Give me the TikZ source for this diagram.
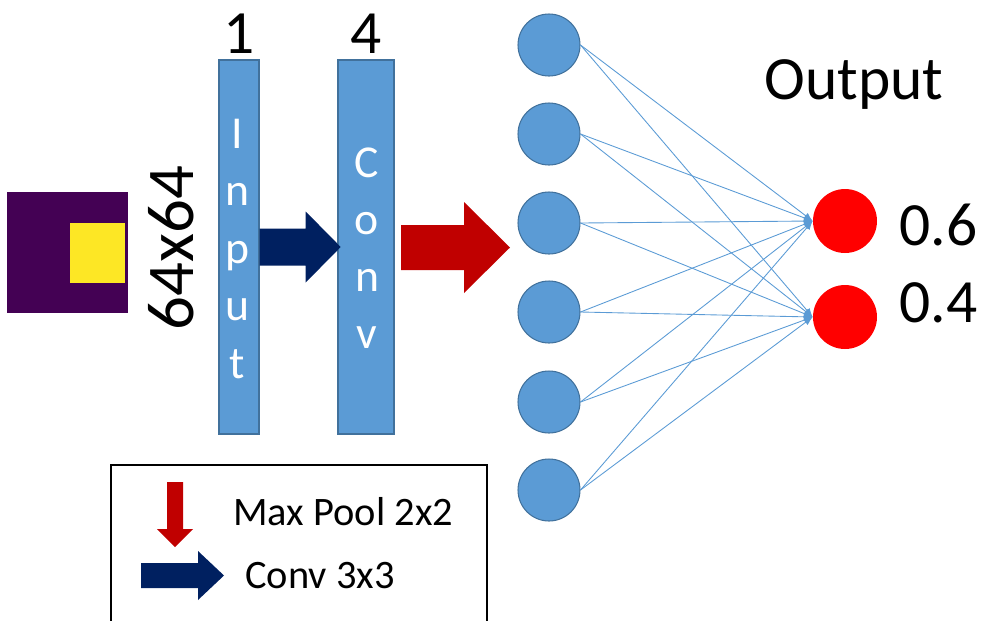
\documentclass[tikz,border=0pt]{standalone}
\usepackage{fontspec}
\setmainfont{Carlito}
\usetikzlibrary{arrows.meta,calc}

\definecolor{barblue}{HTML}{5B9BD5}
\definecolor{barline}{HTML}{41719C}
\definecolor{convnavy}{HTML}{002060}
\definecolor{pooldred}{HTML}{C00000}
\definecolor{vpurple}{HTML}{440154}
\definecolor{vyellow}{HTML}{FDE725}

% block arrow: start, shaft length, total length, shaft half, head half, colour
\newcommand{\fatarrow}[6]{%
  \fill[#6] ($(#1)+(0,-#4)$) -- ++(#2,0) -- ++(0,#4-#5) -- ++(#3-#2,#5)
    -- ++(#2-#3,#5) -- ++(0,#4-#5) -- ++(-#2,0) -- cycle;}

\tikzset{
  bar/.style={rectangle,fill=barblue,draw=barline,line width=0.8pt,
    inner sep=0pt,minimum width=#1,minimum height=7.48cm},
  barletter/.style={text=white,anchor=base,inner sep=0pt,font=\fontsize{26}{30}\selectfont},
  hidden/.style={circle,fill=barblue,draw=barline,line width=0.6pt,
    inner sep=0pt,minimum size=1.24cm},
  outunit/.style={circle,fill=red,inner sep=0pt,minimum size=1.28cm},
  link/.style={draw=barblue,line width=0.5pt,-{Latex[length=5pt,width=4pt]}},
  bigtext/.style={anchor=base,inner sep=0pt,font=\fontsize{35}{40}\selectfont},
  legendtext/.style={anchor=base west,inner sep=0pt,font=\fontsize{23}{27}\selectfont}
}

\begin{document}
\begin{tikzpicture}[x=0.02cm,y=-0.02cm]
\clip (0,0) rectangle (988,620);
\useasboundingbox (0,0) rectangle (988,620);

% input image
\fill[vpurple] (7,192) rectangle (128,313);
\fill[vyellow] (70,223) rectangle (125,283);
\node[anchor=base,rotate=90,inner sep=0pt,font=\fontsize{38}{42}\selectfont] (size) at (193,248) {64x64};

% feature bars
\node[bar=0.8cm] (inp) at (239,247) {};
\node[bar=1.12cm] (conv) at (366,247) {};
\node[bigtext] (ninp) at (239,53) {1};
\node[bigtext] (nconv) at (366,53) {4};
\foreach \c [count=\k from 0] in {I,n,p,u,t}
  \node[barletter] (li\k) at (237,148+57.5*\k) {\c};
\foreach \c [count=\k from 0] in {C,o,n,v}
  \node[barletter] (lc\k) at (367,177+57.3*\k) {\c};

% block arrows
\fatarrow{inp.east}{46}{81}{18.5}{35.5}{convnavy}
\coordinate (poolstart) at (401,247.5);
\fatarrow{poolstart}{63}{109}{22.5}{45.5}{pooldred}

% dense layer
\foreach \i [count=\n] in {45,134,223,312,402,490}
  \node[hidden] (h\n) at (549,\i) {};
\node[outunit] (o1) at (845,221) {};
\node[outunit] (o2) at (845,317) {};
\foreach \i in {1,...,6}
  \foreach \j in {1,2}
    \draw[link] (h\i.east) -- (o\j.west);

\node[bigtext] (outlabel) at (854,99) {Output};
\node[bigtext,anchor=base west] (p1) at (899,245) {0.6};
\node[bigtext,anchor=base west] (p2) at (899,322) {0.4};

% legend
\draw[line width=1.2pt] (111,465) rectangle (487,640);
\fill[pooldred] (167,482) -- (183,482) -- (183,529) -- (193,529) -- (175,547)
  -- (157,529) -- (167,529) -- cycle;
\coordinate (legconv) at (141,575.5);
\fatarrow{legconv}{57}{83}{12.5}{24.5}{convnavy}
\node[legendtext] (legpool) at (233,525) {Max Pool 2x2};
\node[legendtext] (legconvtext) at (245,588) {Conv 3x3};
\end{tikzpicture}
\end{document}
